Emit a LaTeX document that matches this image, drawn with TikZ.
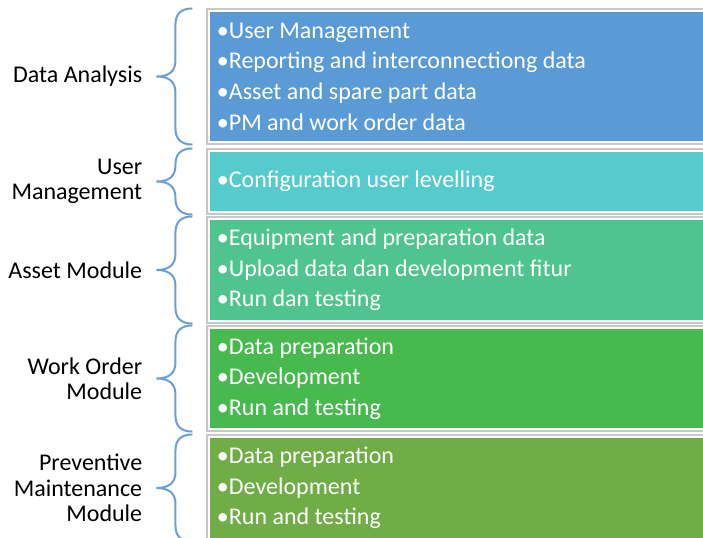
\documentclass[tikz,border=0pt]{standalone}
\usepackage{fontspec}
\setmainfont{Carlito}
\usepackage{tikz}
\usetikzlibrary{positioning, fit, calc}
\definecolor{dablue}{HTML}{5B9BD5}
\definecolor{umcyan}{HTML}{55CBCD}
\definecolor{amgreen}{HTML}{4FC48E}
\definecolor{wogreen}{HTML}{47B94F}
\definecolor{pmgreen}{HTML}{70AD47}
\definecolor{framegray}{HTML}{C8C8C8}
\definecolor{bracecolor}{HTML}{6A9FD6}

\tikzset{
  modbox/.style={anchor=north west, minimum width=376.5pt, inner sep=0, outer sep=0},
  modframe/.style={draw=framegray, line width=0.8pt, inner sep=2.25pt},
  items/.style={anchor=west, align=left, text=white, inner sep=0, font=\fontsize{18}{23}\selectfont},
  modlabel/.style={align=right, inner sep=0, font=\fontsize{18}{19}\selectfont},
  modbrace/.style={draw=bracecolor, line width=1.5pt},
}

\begin{document}
\begin{tikzpicture}[x=0.75pt, y=-0.75pt]
  \useasboundingbox (0,0) rectangle (703,538);
  % kotak modul
  \node[modbox, fill=dablue, minimum height=96.75pt] (b1) at (210,12) {};
  \node[modbox, fill=umcyan, minimum height=44.25pt] (b2) at (210,152) {};
  \node[modbox, fill=amgreen, minimum height=75pt] (b3) at (210,220) {};
  \node[modbox, fill=wogreen, minimum height=74.25pt] (b4) at (210,329) {};
  \node[modbox, fill=pmgreen, minimum height=75pt] (b5) at (210,438) {};
  \foreach \i in {1,...,5} \node[modframe, fit=(b\i)] (f\i) {};

  % isi tiap modul
  \node[items] (t1) at ([xshift=5pt]b1.west)
    {•User Management\\•Reporting and interconnectiong data\\•Asset and spare part data\\•PM and work order data};
  \node[items] (t2) at ([xshift=5pt]b2.west) {•Configuration user levelling};
  \node[items] (t3) at ([xshift=5pt]b3.west)
    {•Equipment and preparation data\\•Upload data dan development fitur\\•Run dan testing};
  \node[items] (t4) at ([xshift=5pt]b4.west)
    {•Data preparation\\•Development\\•Run and testing};
  \node[items] (t5) at ([xshift=5pt]b5.west)
    {•Data preparation\\•Development\\•Run and testing};

  % kurung kurawal
  \foreach \i in {1,...,5}{
    \draw[modbrace] let \p1=(f\i.north west), \p2=(f\i.south west), \p3=(f\i.west) in
      (\x1-10.5pt,\y1) .. controls (\x1-19pt,\y1) and (\x1-23.25pt,\y1-4pt) .. (\x1-23.25pt,\y1-12pt)
      -- (\x1-23.25pt,\y3+12pt) .. controls (\x1-23.25pt,\y3+4pt) and (\x1-28pt,\y3) .. (\x1-37.5pt,\y3)
      .. controls (\x1-28pt,\y3) and (\x1-23.25pt,\y3-4pt) .. (\x1-23.25pt,\y3-12pt)
      -- (\x1-23.25pt,\y2+12pt) .. controls (\x1-23.25pt,\y2+4pt) and (\x1-19pt,\y2) .. (\x1-10.5pt,\y2);
    \coordinate (tip\i) at ([xshift=-37.5pt]f\i.west);
  }

  % nama modul
  \node[modlabel, left=10.5pt of tip1] (l1) {Data Analysis};
  \node[modlabel, left=10.5pt of tip2] (l2) {User\\Management};
  \node[modlabel, left=10.5pt of tip3] (l3) {Asset Module};
  \node[modlabel, left=10.5pt of tip4] (l4) {Work Order\\Module};
  \node[modlabel, left=10.5pt of tip5] (l5) {Preventive\\Maintenance\\Module};
\end{tikzpicture}
\end{document}
